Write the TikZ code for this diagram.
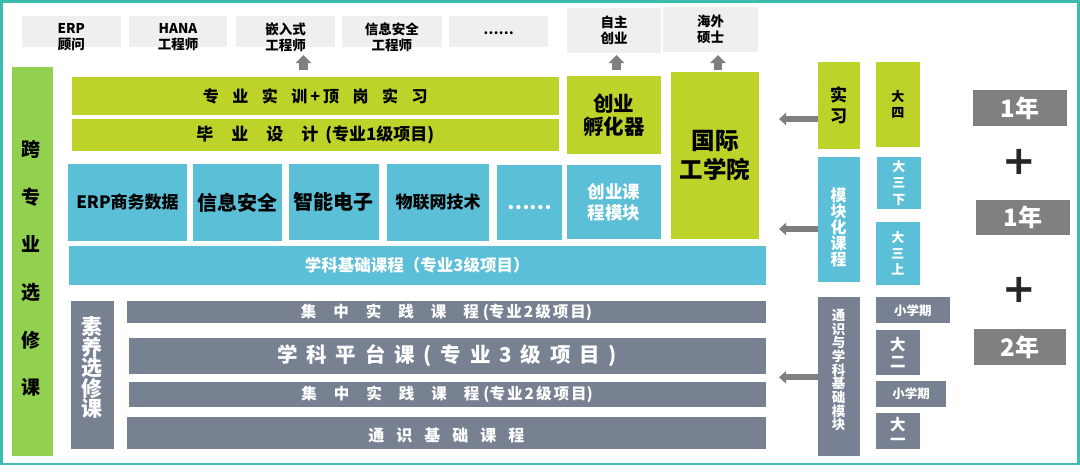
\documentclass[tikz,border=0pt]{standalone}
\usepackage{fontspec}
\setmainfont{Noto Sans CJK SC}
\newfontfamily\dvfont{DejaVu Sans}
\usetikzlibrary{arrows.meta}
\definecolor{frame}{HTML}{3CBCAE}
\definecolor{lg}{HTML}{EFEFEF}
\definecolor{gr}{HTML}{92D050}
\definecolor{yg}{HTML}{BED32A}
\definecolor{bl}{HTML}{5BBFD7}
\definecolor{sl}{HTML}{778192}
\definecolor{gy}{HTML}{808080}
\definecolor{ar}{HTML}{7F7F7F}
\definecolor{pl}{HTML}{262626}
\newcommand\fz[2]{\fontsize{#1}{#2}\selectfont\bfseries}
\newcommand\sk[1]{\hspace{#1pt}}
\begin{document}
\begin{tikzpicture}[x=1pt,y=-1pt,
  rr/.style n args={4}{minimum width={(#3-(#1))*1pt},minimum height={(#4-(#2))*1pt},at={({(#1+#3)/2},{(#2+#4)/2})}},
  bx/.style={inner sep=0pt,outer sep=0pt,align=center,anchor=center},
  topb/.style={bx,fill=lg,text=black},
  grb/.style={bx,fill=gr,text=black},
  ygb/.style={bx,fill=yg,text=black},
  blb/.style={bx,fill=bl,text=black},
  blw/.style={bx,fill=bl,text=white},
  slb/.style={bx,fill=sl,text=white},
  gyb/.style={bx,fill=gy,text=white},
  lab/.style={inner sep=0pt,align=center},
  larr/.style={draw=ar,line width=6pt,-{Triangle[width=12pt,length=7pt]}},
  uarr/.style={draw=ar,line width=8.5pt,-{Triangle[width=15.5pt,length=8pt]}},
  plus/.style={text=pl,inner sep=0pt,font=\dvfont\bfseries\fontsize{40}{40}\selectfont},
]
\fill[white] (0,0) rectangle (1080,472);
\useasboundingbox (0,0) rectangle (1080,472);
\draw[draw=frame,line width=2.7pt] (1.35,1.35) rectangle (1078.65,464);

% top outcome boxes
\node[topb,rr={22}{16}{120.5}{46.7},label={[lab,font=\fz{13.5}{16.5},yshift=-6pt]center:{ERP\\顾问}}] (t1) {};
\node[topb,rr={129}{16}{227}{46.7},label={[lab,font=\fz{13.5}{16.5},yshift=-6pt]center:{HANA\\工程师}}] (t2) {};
\node[topb,rr={236}{16}{335}{46.7},label={[lab,font=\fz{13.5}{16.5},yshift=-6pt]center:{嵌入式\\工程师}}] (t3) {};
\node[topb,rr={342}{16}{441.5}{46.7},label={[lab,font=\fz{13.5}{16.5},yshift=-6pt]center:{信息安全\\工程师}}] (t4) {};
\node[topb,rr={449}{16}{548}{46.7},label={[lab,font=\fz{13.5}{16.5},yshift=-2pt]center:{……}}] (t5) {};
\node[topb,rr={567}{8.3}{661}{53.3},font=\fz{13.5}{16}] (t6) {自主\\创业};
\node[topb,rr={663}{6.7}{758}{51.7},font=\fz{13.5}{16}] (t7) {海外\\硕士};

% left green column
\node[grb,rr={11.7}{67.3}{53.3}{456},label={[lab,font=\fz{19}{47.6},yshift=-7pt,xshift=-2pt]center:{跨\\专\\业\\选\\修\\课}}] (kzy) {};

% yellow-green
\node[ygb,rr={71.5}{77.3}{559}{115},font=\fz{16}{18}] (shixun) {专\sk{13.5}业\sk{13.5}实\sk{13.5}训\sk{3}+\sk{3}顶\sk{13.5}岗\sk{13.5}实\sk{13.5}习};
\node[ygb,rr={71.5}{119.3}{559}{150.7},font=\fz{17}{19}] (biye) {毕\sk{18}业\sk{18}设\sk{18}计\sk{7}(专业1级项目)};
\node[ygb,rr={567}{76}{660.5}{154.3},font=\fz{20.5}{23.7}] (fuhua) {创业\\孵化器};
\node[ygb,rr={671}{71.7}{759}{239},font=\fz{23.5}{28.3}] (gjgx) {国际\\工学院};
\node[ygb,rr={817.5}{61.7}{859.5}{148.7},font=\fz{17}{21.6}] (shixi) {实\\习};
\node[ygb,rr={876}{61.7}{919.5}{147},font=\fz{13}{15.6}] (ds4) {大\\四};

% blue
\node[blb,rr={68}{164}{187}{241},font=\fz{17}{19}] (b1) {ERP商务数据};
\node[blb,rr={192.5}{164}{282}{241},font=\fz{20}{22}] (b2) {信息安全};
\node[blb,rr={288.5}{164}{379}{240.3},font=\fz{20}{22}] (b3) {智能电子};
\node[blb,rr={387}{164}{489}{241},font=\fz{17}{19}] (b4) {物联网技术};
\node[blw,rr={497}{164.7}{562}{240},label={[lab,text=white,font=\fz{20}{22},yshift=-5pt]center:{……}}] (b5) {};
\node[blw,rr={567}{165}{661}{239.3},font=\fz{17.5}{20.6}] (b6) {创业课\\程模块};
\node[blw,rr={69}{246}{765.5}{285},font=\fz{16.5}{18}] (xkjc) {学科基础课程（专业3级项目）};
\node[blw,rr={817.5}{156.7}{859.5}{282},label={[lab,text=white,font=\fz{16}{15},yshift=-8pt]center:{模\\块\\化\\课\\程}}] (mokuai) {};
\node[blw,rr={877}{156.7}{920.5}{209.3},font=\fz{13}{16.3}] (ds3x) {大\\三\\下};
\node[blw,rr={876}{221.7}{919.5}{285},font=\fz{13}{16}] (ds3s) {大\\三\\上};

% slate
\node[slb,rr={70.6}{300.5}{113.6}{449.2},label={[lab,text=white,font=\fz{21}{20.3},yshift=7pt]center:{素\\养\\选\\修\\课}}] (suyang) {};
\node[slb,rr={127.4}{300.5}{765.5}{323.3},font=\fz{15.5}{17}] (jz1) {集\sk{17}中\sk{17}实\sk{17}践\sk{17}课\sk{17}程\sk{4}(专\sk{2}业\sk{2}2\sk{2}级\sk{2}项\sk{2}目)};
\node[slb,rr={128.8}{337.7}{765.5}{374},font=\fz{20.5}{22}] (xkpt) {学\sk{8.8}科\sk{8.8}平\sk{8.8}台\sk{8.8}课\sk{8.8}(\sk{8.8}专\sk{8.8}业\sk{8.8}3\sk{8.8}级\sk{8.8}项\sk{8.8}目\sk{8.8})};
\node[slb,rr={128.8}{381.7}{765.5}{406.7},font=\fz{15.5}{17}] (jz2) {集\sk{17}中\sk{17}实\sk{17}践\sk{17}课\sk{17}程\sk{4}(专\sk{2}业\sk{2}2\sk{2}级\sk{2}项\sk{2}目)};
\node[slb,rr={127.4}{416.7}{765.5}{449},label={[lab,text=white,font=\fz{16}{18},yshift=-3pt]center:{通\sk{12}识\sk{12}基\sk{12}础\sk{12}课\sk{12}程}}] (tsjc) {};
\node[slb,rr={817.5}{297.3}{859.5}{456},label={[lab,text=white,font=\fz{13.5}{13.7},yshift=6.5pt]center:{通\\识\\与\\学\\科\\基\\础\\模\\块}}] (tongshi) {};
\node[slb,rr={876}{297.3}{949.8}{323.3},font=\fz{12.5}{14}] (xxq1) {小学期};
\node[slb,rr={876}{330}{919.5}{375},font=\fz{15.5}{16.7}] (ds2) {大\\二};
\node[slb,rr={876}{381}{946.3}{406.7},font=\fz{12.5}{14}] (xxq2) {小学期};
\node[slb,rr={876}{412.7}{919.5}{449.3},font=\fz{15.5}{15}] (ds1) {大\\一};

% years
\node[gyb,rr={973}{90}{1067}{125.7},font=\fz{24}{26}] (y1) {1年};
\node[gyb,rr={976}{200}{1069.6}{235},font=\fz{24}{26}] (y2) {1年};
\node[gyb,rr={973.5}{329.3}{1066}{365},font=\fz{24}{26}] (y3) {2年};
\node[plus] (p1) at (1019.7,161.5) {+};
\node[plus] (p2) at (1019.7,290) {+};

% arrows
\coordinate (la1) at (779,119);
\coordinate (la2) at (779,229);
\coordinate (la3) at (779,377.3);
\draw[larr] (shixi.west |- la1) -- (la1);
\draw[larr] (mokuai.west |- la2) -- (la2);
\draw[larr] (tongshi.west |- la3) -- (la3);
\coordinate (ua1) at (303.5,55);
\coordinate (ua2) at (616.5,55);
\coordinate (ua3) at (718,55);
\draw[uarr,shorten <=7.3pt] (ua1 |- shixun.north) -- (ua1);
\draw[uarr,shorten <=6pt] (ua2 |- fuhua.north) -- (ua2);
\draw[uarr,shorten <=1.7pt] (ua3 |- gjgx.north) -- (ua3);
\end{tikzpicture}
\end{document}
